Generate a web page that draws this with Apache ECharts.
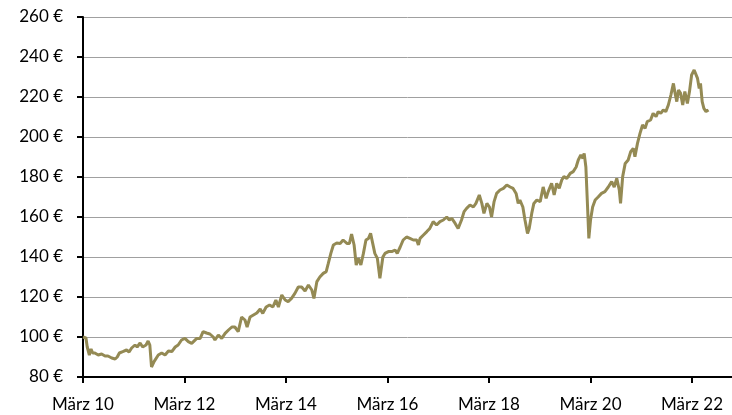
<!DOCTYPE html>
<html>
<head>
<meta charset="utf-8">
<script src="https://cdn.jsdelivr.net/npm/echarts@6/dist/echarts.min.js"></script>
<style>
html,body{margin:0;padding:0;background:#fff;}
#chart{width:732px;height:415px;}
</style>
</head>
<body>
<div id="chart"></div>
<script>
// Months since März 2010
var months = [0,0.7,1.0,1.5,1.9,2.3,2.8,3.6,4.4,5.2,5.9,6.8,7.6,8.1,8.6,9.4,10.3,10.9,11.5,12.3,12.8,13.5,14.1,14.9,15.4,15.8,16.2,16.8,17.8,18.6,19.4,20.2,21.0,21.8,22.5,23.3,24.1,24.9,25.7,
26.1,26.9,27.7,28.4,29.2,30.0,30.8,31.2,32.0,32.8,33.6,34.4,35.2,35.9,36.7,37.5,38.3,38.8,39.5,40.3,41.1,41.9,42.5,43.3,44.1,44.9,45.6,46.2,47.0,47.8,48.5,49.3,50.1,50.9,51.7,52.5,53.3,54.1,54.6,55.3,56.0,
56.8,57.5,58.0,58.6,59.2,60.0,60.8,61.5,62.4,63.0,63.5,64.1,64.6,65.1,65.7,66.3,66.9,67.5,68.0,68.5,69.0,69.6,70.2,70.9,71.4,72.2,73.0,73.8,74.3,75.0,75.7,76.5,77.3,78.1,78.9,79.3,
79.7,80.5,81.3,82.0,82.8,83.6,84.4,85.2,86.0,86.6,87.2,88.0,88.7,89.5,90.1,90.7,91.5,92.3,92.9,93.7,94.3,94.8,95.5,96.1,96.6,97.2,97.8,98.6,99.4,100.2,101.0,101.7,102.4,102.9,103.3,104.0,104.5,105.1,105.5,106.1,106.6,107.3,108.1,108.8,109.5,110.0,110.8,111.4,112.0,112.6,113.2,113.7,114.4,115.2,115.9,116.6,117.1,117.7,118.2,118.5,118.9,119.3,119.6,120.0,120.5,121.1,121.8,122.6,123.4,124.2,125.0,125.6,126.2,126.8,127.1,127.6,
128.2,128.9,129.5,130.1,130.5,131.1,131.7,132.3,132.9,133.4,134.2,134.8,135.5,136.0,136.6,137.2,137.8,138.4,139.0,139.6,140.0,140.4,140.8,141.3,141.8,142.3,142.9,143.4,143.9,144.5,144.9,145.3,145.7,146.0,146.4,146.8,147.3,147.9];
var prices = [100,99.5,95,91,94,92,92,91,91.5,90.5,90.5,89.5,89,90,92,92.7,93.5,92.5,94.5,96,95,97,95,96,98,96,85,87.7,91,92,91,93,92.7,95,96,98.5,99.3,97.7,96.8,
97.7,99.3,99.3,102.7,102,101.5,100,98.5,101,99.3,101.8,103.5,105,105,102.7,110,108.5,105,110,111,112,114,111.8,115,116,115,118.5,115,121,118.5,117.7,119.3,121.8,125,125,123,126,123.5,119.3,127.7,130,
131.8,132.7,136.8,141.8,146,147,146.8,148.5,146.8,146.8,151.5,146,136,139.3,136,141.8,148.5,149.3,151.8,146.8,141.8,139.3,129.3,140,141.8,142.7,142.7,143.5,141.8,145,148.5,150,149.3,148.5,148.5,146,
149.3,151,152.7,154.3,157.7,156,157.7,158.5,160,158.5,159.3,156.8,154.3,158.5,162.7,164.3,166,165,166.8,171,166.8,161.8,166.8,165,160,167.7,171.8,173.5,174.3,176,175,174.3,171.8,166.8,168.5,165,158.5,151.8,154.3,161.8,166.8,168.5,167.7,175,169.3,172.7,176.8,171,176.8,174.3,178.5,180.2,179.3,181.8,182.7,185,188.5,191,189.3,191.8,185,165,149.3,158.5,165,168.5,170,171.8,172.7,175,177.7,175,179.3,173.5,166.8,180.2,
186.8,188.5,192.7,194.3,190.2,196.8,201.8,206,204.3,207.7,208.5,211.8,210.2,212.7,211.8,213.5,212.7,216,221,226.8,221.8,217.7,223.5,221.8,216,222.7,216.8,222.7,231,233.5,234.3,229.3,224.3,226.8,217.7,214.3,212.7,213.5];
var yTicks = [80,100,120,140,160,180,200,220,240,260];
var xTickMonths = [0,24,48,72,96,120,144];
var xTickLabels = ['März 10','März 12','März 14','März 16','März 18','März 20','März 22'];

var data = months.map(function(m,i){return [m, prices[i]];});
var chart = echarts.init(document.getElementById('chart'));
var font = 'Lato';
chart.setOption({
  animation:false,
  grid:{left:83,right:0,top:17,bottom:38},
  xAxis:{
    type:'value', min:0, max:153.45,
    axisLine:{lineStyle:{color:'#000',width:2}},
    axisTick:{show:true,length:6,customValues:xTickMonths,lineStyle:{color:'#000',width:2}},
    splitLine:{show:false},
    axisLabel:{color:'#000',fontFamily:font,fontSize:17,margin:19,customValues:xTickMonths,
      formatter:function(v){var k=xTickMonths.indexOf(Math.round(v)); return k>=0?xTickLabels[k]:'';}}
  },
  yAxis:{
    type:'value', min:yTicks[0], max:yTicks[yTicks.length-1], interval:20,
    axisLine:{show:true,lineStyle:{color:'#000',width:2}},
    axisTick:{show:true,length:6,lineStyle:{color:'#000',width:2}},
    splitLine:{show:true,lineStyle:{color:'#a0a0a0',width:1}},
    axisLabel:{color:'#000',fontFamily:font,fontSize:17,margin:20,formatter:function(v){return v+' €';}}
  },
  series:[{type:'line',data:data,showSymbol:false,symbol:'none',lineStyle:{color:'#948a54',width:3},itemStyle:{color:'#948a54'}}]
});
</script>
</body>
</html>
